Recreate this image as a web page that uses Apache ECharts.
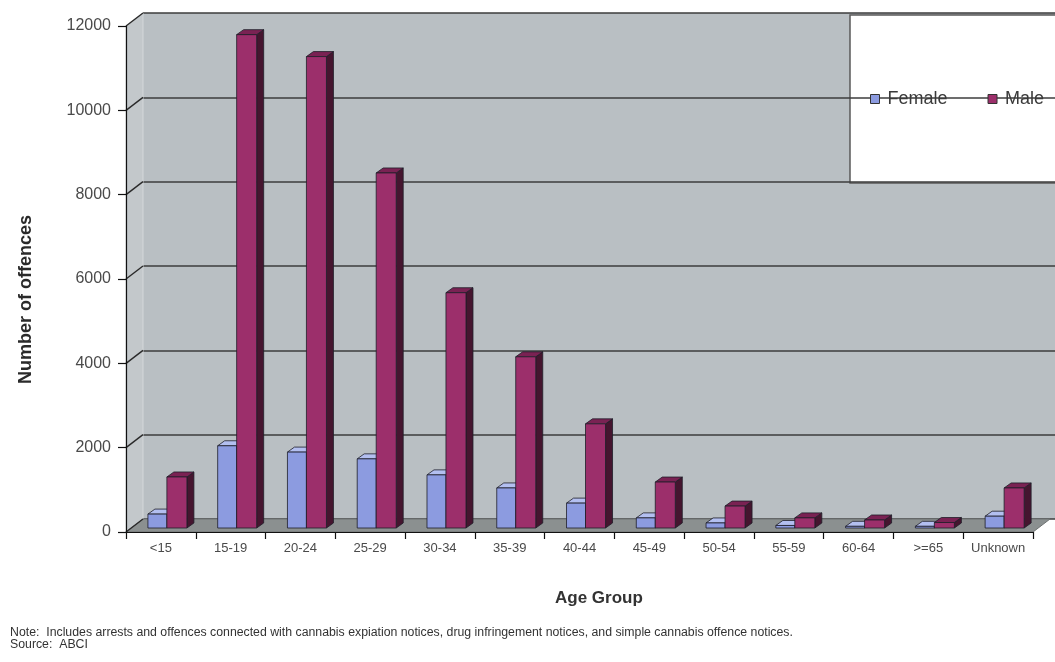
<!DOCTYPE html>
<html>
<head>
<meta charset="utf-8">
<script src="https://cdn.jsdelivr.net/npm/echarts@6/dist/echarts.min.js"></script>
<style>
  html, body { margin: 0; padding: 0; background: #ffffff; }
  #chart { width: 1055px; height: 662px; }
</style>
</head>
<body>
<div id="chart"></div>
<script>
// Offences by age group and sex
const ageGroups = ['<15', '15-19', '20-24', '25-29', '30-34', '35-39', '40-44', '45-49', '50-54', '55-59', '60-64', '>=65', 'Unknown'];
const female = [330, 1950, 1800, 1640, 1260, 950, 590, 240, 120, 60, 40, 40, 280];
const male = [1210, 11700, 11180, 8420, 5580, 4060, 2470, 1090, 520, 240, 190, 130, 950];
const valueTicks = [0, 2000, 4000, 6000, 8000, 10000, 12000];

// depth offset of the back wall relative to the front plane (pixels)
const WALL_DX = 17, WALL_DY = -13;
// depth of each bar, and lift of the bar base above the axis line
const BAR_DX = 7, BAR_DY = -5, BAR_LIFT = 4;

const FONT = '"Liberation Sans", Arial, sans-serif';

const palette = {
  female: { front: '#8c9be0', top: '#b3bff0', side: '#59619c' },
  male:   { front: '#9c2f6b', top: '#7a2253', side: '#45152f' }
};

function barRenderer(colors, leftFrac, rightFrac) {
  return function (params, api) {
    const cat = api.value(0);
    const v = api.value(1);
    const base = api.coord([cat, 0]);
    const top = api.coord([cat, v]);
    const bw = api.size([1, 0])[0];
    const x0 = base[0] + leftFrac * bw;
    const x1 = base[0] + rightFrac * bw;
    const yb = base[1] - BAR_LIFT;
    const yt = top[1] - BAR_LIFT;
    const stroke = { stroke: '#1e1e28', lineWidth: 0.8 };
    return {
      type: 'group',
      children: [
        { type: 'polygon', shape: { points: [[x1, yt], [x1 + BAR_DX, yt + BAR_DY], [x1 + BAR_DX, yb + BAR_DY], [x1, yb]] },
          style: Object.assign({ fill: colors.side }, stroke) },
        { type: 'polygon', shape: { points: [[x0, yt], [x0 + BAR_DX, yt + BAR_DY], [x1 + BAR_DX, yt + BAR_DY], [x1, yt]] },
          style: Object.assign({ fill: colors.top }, stroke) },
        { type: 'rect', shape: { x: x0, y: yt, width: x1 - x0, height: yb - yt },
          style: Object.assign({ fill: colors.front }, stroke) }
      ]
    };
  };
}

const chart = echarts.init(document.getElementById('chart'), null, { renderer: 'canvas' });

chart.setOption({
  animation: false,
  backgroundColor: '#ffffff',
  grid: [
    { left: 126, top: 26, width: 907, height: 506, containLabel: false },
    { left: 143, top: 13, right: 0, height: 506, show: true, backgroundColor: '#b9bfc3', borderWidth: 0, z: 0 }
  ],
  xAxis: [
    {
      type: 'category', gridIndex: 0, data: ageGroups, z: 6,
      axisLine: { show: true, lineStyle: { color: '#111', width: 1.2 } },
      axisTick: { show: true, length: 7, interval: 0, lineStyle: { color: '#111', width: 1.2 } },
      axisLabel: { interval: 0, margin: 10, fontSize: 13, color: '#4a4a4a', fontFamily: FONT },
      splitLine: { show: false }
    },
    { type: 'value', gridIndex: 1, show: false, min: 0, max: 1 }
  ],
  yAxis: [
    {
      type: 'value', gridIndex: 0, min: 0, max: 12000, interval: 2000, z: 6,
      axisLine: { show: true, lineStyle: { color: '#111', width: 1.2 } },
      axisTick: { show: true, length: 8, lineStyle: { color: '#111', width: 1.2 } },
      axisLabel: { margin: 15, fontSize: 16, color: '#4a4a4a', fontFamily: FONT, formatter: v => String(v) },
      splitLine: { show: false }
    },
    {
      type: 'value', gridIndex: 1, min: 0, max: 12000, interval: 2000,
      axisLine: { show: false }, axisTick: { show: false }, axisLabel: { show: false },
      splitLine: { show: true, lineStyle: { color: '#3c3c3c', width: 1.6 } }
    }
  ],
  legend: {
    orient: 'horizontal',
    left: 850, top: 15, width: 205,
    padding: [75, 0, 75, 20],
    itemWidth: 9, itemHeight: 9, itemGap: 40,
    icon: 'rect',
    itemStyle: { borderColor: '#333', borderWidth: 1 },
    textStyle: { fontSize: 18, color: '#3a3a3a', fontFamily: FONT, padding: [0, 0, 0, 3] },
    data: ['Female', 'Male'],
    z: 9
  },
  graphic: {
    z: 8,
    elements: [
      {
        // legend panel
        type: 'rect', x: 850, y: 15,
        shape: { width: 215, height: 168 },
        style: { fill: '#ffffff', stroke: '#5a5a5a', lineWidth: 1.5 }
      },
      {
        type: 'text',
        rotation: Math.PI / 2, originX: 0, originY: 0,
        x: 17, y: 384,
        style: { text: 'Number of offences', font: 'bold 18px ' + FONT, fill: '#2a2a2a' }
      },
      {
        type: 'text', left: 555, top: 590,
        style: { text: 'Age Group', font: 'bold 17px ' + FONT, fill: '#333' }
      },
      {
        type: 'text', left: 10, top: 627,
        style: {
          text: 'Note:  Includes arrests and offences connected with cannabis expiation notices, drug infringement notices, and simple cannabis offence notices.\nSource:  ABCI',
          font: '12.3px ' + FONT, lineHeight: 11.5, fill: '#333'
        }
      }
    ]
  },
  series: [
    {
      // left side wall, floor and the tick connectors running back to the wall
      type: 'custom', name: 'frame', xAxisIndex: 0, yAxisIndex: 0, z: 1,
      silent: true, legendHoverLink: false,
      data: valueTicks.map(v => [0, v]),
      encode: { x: 0, y: 1 },
      renderItem: function (params, api) {
        const cs = params.coordSys;
        const y = api.coord([0, api.value(1)])[1];
        const xl = cs.x;
        const children = [];
        if (params.dataIndex === 0) {
          const yTop = cs.y, yBot = cs.y + cs.height, xr = cs.x + cs.width;
          children.push({
            type: 'polygon', z2: 0,
            shape: { points: [[xl, yTop], [xl + WALL_DX, yTop + WALL_DY], [xl + WALL_DX, yBot + WALL_DY], [xl, yBot]] },
            style: { fill: '#c3c8cb', stroke: '#d4d8da', lineWidth: 1 }
          });
          children.push({
            type: 'polygon', z2: 0,
            shape: { points: [[xl, yBot], [xl + WALL_DX, yBot + WALL_DY], [xr + WALL_DX, yBot + WALL_DY], [xr, yBot]] },
            style: { fill: '#8b9090', stroke: '#6e7272', lineWidth: 1 }
          });
        }
        children.push({
          type: 'line', z2: 1,
          shape: { x1: xl, y1: y, x2: xl + WALL_DX, y2: y + WALL_DY },
          style: { stroke: '#2a2a2a', lineWidth: 1.4 }
        });
        return { type: 'group', children: children };
      }
    },
    {
      type: 'custom', name: 'Female', xAxisIndex: 0, yAxisIndex: 0, z: 3,
      itemStyle: { color: palette.female.front },
      data: female.map((v, i) => [i, v]),
      encode: { x: 0, y: 1 },
      renderItem: barRenderer(palette.female, -0.186, 0.086)
    },
    {
      type: 'custom', name: 'Male', xAxisIndex: 0, yAxisIndex: 0, z: 4,
      itemStyle: { color: palette.male.front },
      data: male.map((v, i) => [i, v]),
      encode: { x: 0, y: 1 },
      renderItem: barRenderer(palette.male, 0.086, 0.373)
    }
  ]
});
</script>
</body>
</html>
